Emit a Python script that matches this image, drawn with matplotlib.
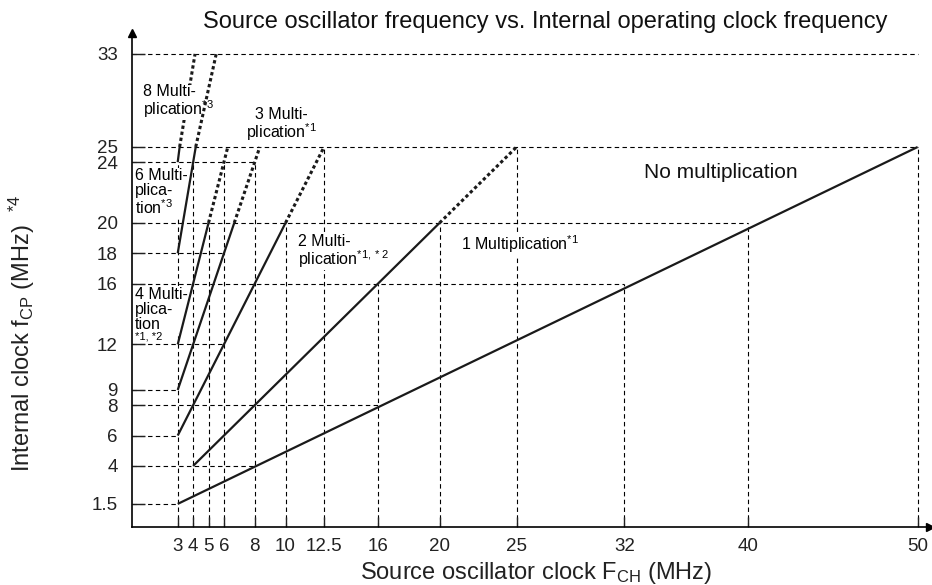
import numpy as np
import matplotlib.pyplot as plt

plt.rcParams['font.family'] = ['Liberation Sans', 'DejaVu Sans']
plt.rcParams['mathtext.fontset'] = 'custom'
plt.rcParams['mathtext.rm'] = 'Liberation Sans'

#Data
x_ticks = [3, 4, 5, 6, 8, 10, 12.5, 16, 20, 25, 32, 40, 50]
x_tick_labels = ['3', '4', '5', '6', '8', '10', '12.5', '16', '20', '25', '32', '40', '50']
y_ticks = [1.5, 4, 6, 8, 9, 12, 16, 18, 20, 24, 25, 33]
y_tick_labels = ['1.5', '4', '6', '8', '9', '12', '16', '18', '20', '24', '25', '33']

#solid part and dotted part of every multiplication line
no_mult_x = [3, 50]
no_mult_y = [1.5, 25]
mult1_x = [4, 20]
mult1_y = [4, 20]
mult1_dot_x = [20, 25]
mult1_dot_y = [20, 25]
mult2_x = [3, 10]
mult2_y = [6, 20]
mult2_dot_x = [10, 12.5]
mult2_dot_y = [20, 25]
mult3_x = [3, 6.67]
mult3_y = [9, 20]
mult3_dot_x = [6.67, 8.33]
mult3_dot_y = [20, 25]
mult4_x = [3, 5]
mult4_y = [12, 20]
mult4_dot_x = [5, 6.25]
mult4_dot_y = [20, 25]
mult6_x = [3, 4.17]
mult6_y = [18, 25]
mult6_dot_x = [4.17, 5.5]
mult6_dot_y = [25, 33]
mult8_x = [3, 3.125]
mult8_y = [24, 25]
mult8_dot_x = [3.125, 4.125]
mult8_dot_y = [25, 33]

#dashed guide lines: (level, end)
guide_h_y = [1.5, 4, 6, 8, 9, 12, 16, 18, 20, 24, 25, 33]
guide_h_end = [3, 8, 3, 16, 3, 6, 32, 6, 40, 8, 50, 50]
guide_v_x = [3, 4, 5, 6, 8, 10, 12.5, 16, 20, 25, 32, 40, 50]
guide_v_end = [24, 24, 20, 24, 24, 20, 25, 16, 20, 25, 16, 20, 25]


#Scales (axis drawn compressed above 25 MHz and stretched after 40 MHz)
def y_fwd(v):
    v = np.asarray(v, dtype=float)
    return np.where(v <= 25, v, 25 + (v - 25) * 0.766)


def y_inv(v):
    v = np.asarray(v, dtype=float)
    return np.where(v <= 25, v, 25 + (v - 25) / 0.766)


def x_fwd(v):
    v = np.asarray(v, dtype=float)
    return np.where(v <= 40, v, 40 + (v - 40) * 1.104)


def x_inv(v):
    v = np.asarray(v, dtype=float)
    return np.where(v <= 40, v, 40 + (v - 40) / 1.104)


fig = plt.figure(figsize=(9.32, 5.85), dpi=100)
ax = fig.add_axes([0.1411, 0.0997, 0.8568, 0.8439])
ax.set_xscale('function', functions=(x_fwd, x_inv))
ax.set_yscale('function', functions=(y_fwd, y_inv))
ax.set_xlim(0, 50.73)
ax.set_ylim(0, 34.8)

dash = (0, (4, 3))
for yy, xe in zip(guide_h_y, guide_h_end):
    ax.plot([0, xe], [yy, yy], color='black', lw=0.8, linestyle=dash, zorder=1)
for xx, ye in zip(guide_v_x, guide_v_end):
    ax.plot([xx, xx], [0, ye], color='black', lw=0.8, linestyle=dash, zorder=1)

solid = [(no_mult_x, no_mult_y), (mult1_x, mult1_y), (mult2_x, mult2_y),
         (mult3_x, mult3_y), (mult4_x, mult4_y), (mult6_x, mult6_y), (mult8_x, mult8_y)]
dotted = [(mult1_dot_x, mult1_dot_y), (mult2_dot_x, mult2_dot_y), (mult3_dot_x, mult3_dot_y),
          (mult4_dot_x, mult4_dot_y), (mult6_dot_x, mult6_dot_y)]
for xs, ys in solid:
    ax.plot(xs, ys, color='#1a1a1a', lw=1.6, solid_capstyle='butt', zorder=3)
for xs, ys in dotted:
    ax.plot(xs, ys, color='#1a1a1a', lw=2.2, linestyle=(0, (1.1, 0.9)), zorder=3)
#8 multiplication dotted part runs under its label
ax.plot(mult8_dot_x, mult8_dot_y, color='#1a1a1a', lw=2.2, linestyle=(0, (1.1, 0.9)), zorder=1.5)

#Axes
for s in ['top', 'right']:
    ax.spines[s].set_visible(False)
ax.spines['left'].set_linewidth(1.2)
ax.spines['bottom'].set_linewidth(1.2)
ax.plot(1, 0, marker='>', color='black', markersize=6, transform=ax.transAxes, clip_on=False)
ax.plot(0, 1, marker='^', color='black', markersize=6, transform=ax.transAxes, clip_on=False)

ax.set_xticks(x_ticks)
ax.set_xticklabels(x_tick_labels)
ax.set_yticks(y_ticks)
ax.set_yticklabels(y_tick_labels)
ax.minorticks_off()
ax.tick_params(axis='x', direction='in', length=7, width=1, labelsize=13.5, pad=8, colors='#222222')
ax.tick_params(axis='y', direction='in', length=9, width=1, labelsize=13.5, pad=10, colors='#222222')

ax.set_xlabel(r'Source oscillator clock F$\mathregular{_{CH}}$ (MHz)', fontsize=17, color='#222222', va='center')
ax.set_ylabel(r'Internal clock f$\mathregular{_{CP}}$ (MHz)  $\mathregular{^{*4}}$', fontsize=17, color='#222222',
              va='center')
ax.xaxis.set_label_coords(0.507, -0.094)
ax.yaxis.set_label_coords(-0.137, 0.392)
fig.text(0.585, 0.962, 'Source oscillator frequency vs. Internal operating clock frequency',
         fontsize=17, ha='center', va='center', color='#111111')

#Labels
box = dict(facecolor='white', edgecolor='none', pad=0.5)
fs = 11.5
ax.text(0.77, 28.9, '8 Multi-\nplication$\\mathregular{^{*3}}$', fontsize=fs, ha='left', va='center',
        linespacing=0.95, bbox=box, zorder=2)
ax.text(9.75, 26.9, '3 Multi-\nplication$\\mathregular{^{*1}}$', fontsize=fs, ha='center', va='center',
        multialignment='center', linespacing=0.95, bbox=box, zorder=5)
ax.text(0.23, 22.0, '6 Multi-\nplica-\ntion$\\mathregular{^{*3}}$', fontsize=fs, ha='left', va='center',
        linespacing=1.0, bbox=box, zorder=2)
ax.text(0.23, 14.3, '4 Multi-\nplica-\ntion', fontsize=fs, ha='left', va='center',
        linespacing=1.0, bbox=box, zorder=2)
ax.text(0.23, 12.55, '*1, *2', fontsize=8, ha='left', va='center', bbox=box, zorder=2)
ax.text(10.8, 18.1, '2 Multi-\nplication$\\mathregular{^{*1,*2}}$', fontsize=fs, ha='left', va='center',
        linespacing=0.95, bbox=box, zorder=2)
ax.text(21.4, 18.6, '1 Multiplication$\\mathregular{^{*1}}$', fontsize=fs, ha='left', va='center',
        bbox=box, zorder=2)
ax.text(33.3, 23.34, 'No multiplication', fontsize=15, ha='left', va='center', color='#111111')

fig.savefig('out.png', dpi=100)
